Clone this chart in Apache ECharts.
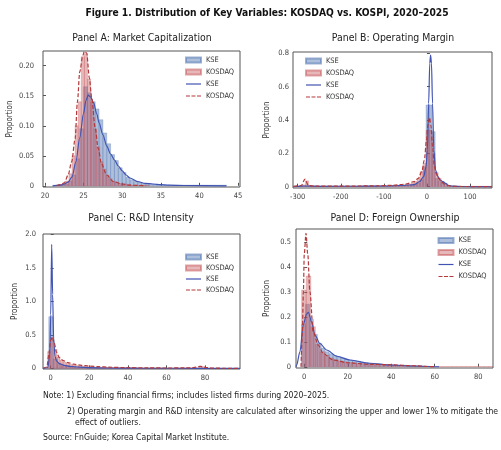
<!DOCTYPE html>
<html>
<head>
<meta charset="utf-8">
<script src="https://cdn.jsdelivr.net/npm/echarts@6/dist/echarts.min.js"></script>
<style>
html, body { margin: 0; padding: 0; background: #fff; }
#chart { width: 501px; height: 450px; }
</style>
</head>
<body>
<div id="chart"></div>
<script>
;
(function() {

	var chart = echarts.init(document.getElementById('chart'), null, {renderer: 'canvas'});
	var FONT = "'Liberation Sans Narrow','DejaVu Sans Condensed','Noto Sans',sans-serif";

	// Panel A: 시가총액 (log)
	var capKseStart = 21.0, capKseWidth = 0.5;
	var capKseHist = [0.001, 0.001, 0.002, 0.003, 0.008, 0.018, 0.045, 0.095, 0.165, 0.155,
		0.14, 0.128, 0.11, 0.088, 0.07, 0.052, 0.042, 0.03, 0.022, 0.014,
		0.01, 0.007, 0.005, 0.004, 0.003, 0.002, 0.002, 0.001, 0.001, 0.001,
		0.001, 0.001, 0.001, 0.001, 0.001, 0.001, 0.001, 0.001, 0.001, 0.001,
		0.001, 0.001, 0.001, 0.001, 0.001];
	var capKosStart = 21.5, capKosWidth = 0.4;
	var capKosHist = [0.001, 0.002, 0.004, 0.008, 0.02, 0.05, 0.1, 0.14, 0.215, 0.22,
		0.178, 0.14, 0.095, 0.065, 0.04, 0.028, 0.018, 0.012, 0.008, 0.006,
		0.004, 0.003, 0.003, 0.002, 0.001, 0.001, 0.001, 0.001, 0.001, 0.001];
	var capKseKde = [[21, 0], [22, 0.001], [22.5, 0.003], [23, 0.006], [23.5, 0.015], [24, 0.04],
		[24.5, 0.08], [25, 0.121], [25.3, 0.142], [25.6, 0.151], [25.9, 0.148], [26.3, 0.138],
		[26.7, 0.12], [27, 0.105], [27.5, 0.085], [28, 0.066], [28.5, 0.053], [29, 0.043],
		[29.5, 0.033], [30, 0.025], [30.5, 0.018], [31, 0.013], [32, 0.007], [33, 0.004],
		[34, 0.003], [35, 0.002], [36, 0.001], [38, 0.0005], [43.5, 0]];
	var capKosKde = [[21.5, 0], [22, 0.002], [22.5, 0.005], [23, 0.018], [23.45, 0.04], [23.9, 0.078],
		[24.2, 0.14], [24.5, 0.19], [24.9, 0.217], [25.1, 0.224], [25.4, 0.221], [25.75, 0.179],
		[26.05, 0.146], [26.5, 0.096], [26.9, 0.062], [27.3, 0.037], [28, 0.018], [28.85, 0.007],
		[30, 0.003], [31, 0.001], [33, 0]];

	// Panel B: 영업이익률
	var opmStart = -303, opmWidth = 7;
	var opmKseHist = [0.002, 0.003, 0.003, 0.004, 0.002, 0.002, 0.002, 0.003, 0.002, 0.002,
		0.002, 0.002, 0.003, 0.002, 0.002, 0.002, 0.002, 0.003, 0.002, 0.002,
		0.003, 0.002, 0.003, 0.003, 0.003, 0.003, 0.004, 0.003, 0.004, 0.004,
		0.004, 0.004, 0.005, 0.005, 0.005, 0.006,
		0.007, 0.008, 0.01, 0.014, 0.022, 0.04, 0.12,
		0.49, 0.49, 0.33,
		0.05, 0.032, 0.03, 0.02, 0.007,
		0.002, 0.002, 0.002, 0.001, 0.001, 0.001, 0.001, 0.001, 0.001, 0.001, 0.001, 0.001, 0.001, 0.001];
	var opmKosHist = [0.003, 0.004, 0.01, 0.035, 0.006, 0.003, 0.003, 0.003, 0.003, 0.003,
		0.003, 0.003, 0.003, 0.003, 0.003, 0.003, 0.003, 0.003, 0.003, 0.003,
		0.003, 0.003, 0.004, 0.004, 0.004, 0.004, 0.004, 0.005, 0.005, 0.005,
		0.006, 0.006, 0.007, 0.008, 0.009, 0.01,
		0.012, 0.015, 0.02, 0.03, 0.05, 0.09, 0.14,
		0.34, 0.34, 0.2,
		0.085, 0.05, 0.025, 0.014, 0.006,
		0.003, 0.003, 0.003, 0.003, 0.002, 0.002, 0.002, 0.002, 0.002, 0.002, 0.002, 0.002, 0.002, 0.002];
	var opmKseKde = [[-310, 0], [-300, 0.002], [-285, 0.004], [-250, 0.002], [-150, 0.003], [-100, 0.004],
		[-60, 0.007], [-40, 0.01], [-30, 0.012], [-17, 0.03], [-7.6, 0.06], [-2, 0.12], [1, 0.22],
		[4, 0.5], [6.5, 0.74], [8.5, 0.79], [10.5, 0.74], [13, 0.5], [16, 0.22], [20, 0.1],
		[25.5, 0.06], [31, 0.04], [37, 0.03], [43, 0.02], [50, 0.008], [60, 0.003], [80, 0.001], [151, 0]];
	var opmKosKde = [[-310, 0.002], [-292, 0.006], [-283, 0.045], [-275, 0.006], [-260, 0.003], [-200, 0.003],
		[-120, 0.005], [-80, 0.008], [-50, 0.015], [-30, 0.03], [-20, 0.05], [-12, 0.09], [-6, 0.16],
		[-1, 0.28], [3, 0.38], [6, 0.415], [9, 0.37], [13, 0.24], [17, 0.13], [21, 0.08], [27, 0.05],
		[33, 0.03], [40, 0.016], [50, 0.006], [60, 0.002], [80, 0.001], [151, 0]];

	// Panel C: R&D 집약도
	var rndKseStart = -1, rndKseWidth = 2.25;
	var rndKseHist = [0.77, 0.14, 0.06, 0.04, 0.03, 0.022, 0.016, 0.012, 0.01, 0.008,
		0.007, 0.006, 0.005, 0.004, 0.004, 0.003, 0.003, 0.002, 0.002, 0.002,
		0.002, 0.001, 0.001, 0.001, 0.001, 0.001, 0.001];
	var rndKosStart = -1.6, rndKosWidth = 1.6;
	var rndKosHist = [0.25, 0.46, 0.28, 0.17, 0.12, 0.09, 0.075, 0.06, 0.05, 0.042,
		0.035, 0.03, 0.026, 0.022, 0.019, 0.016, 0.014, 0.012, 0.011, 0.01,
		0.009, 0.008, 0.008, 0.007, 0.007, 0.006, 0.006, 0.005, 0.005, 0.005,
		0.004, 0.004, 0.004, 0.004, 0.003, 0.003, 0.003, 0.003, 0.003, 0.003,
		0.003, 0.003, 0.003, 0.003, 0.003, 0.003, 0.003, 0.004, 0.006,
		0.03, 0.025];
	var rndKseKde = [[-4, 0], [-1.5, 0.01], [-0.5, 0.2], [0, 0.8], [0.5, 1.85], [1, 1.1], [1.5, 0.45],
		[2.2, 0.18], [3, 0.11], [4.5, 0.07], [7, 0.045], [10, 0.03], [15, 0.018], [20, 0.01],
		[30, 0.005], [45, 0.002], [60, 0.001], [98, 0]];
	var rndKosKde = [[-4, 0], [-2, 0.02], [-1, 0.2], [0, 0.42], [0.8, 0.47], [1.8, 0.38], [3, 0.24],
		[4.5, 0.16], [6.5, 0.115], [9, 0.085], [12, 0.062], [16, 0.045], [20, 0.034], [25, 0.024],
		[30, 0.017], [40, 0.01], [50, 0.007], [60, 0.005], [70, 0.006], [74, 0.012], [77.5, 0.03],
		[80.5, 0.012], [84, 0.003], [90, 0.001], [98, 0]];

	// Panel D: 외국인 지분율
	var forKseStart = -1.2, forKseWidth = 1.8;
	var forKseHist = [0.17, 0.25, 0.19, 0.13, 0.095, 0.075, 0.06, 0.052, 0.045, 0.04,
		0.035, 0.03, 0.027, 0.024, 0.021, 0.018, 0.016, 0.014, 0.012, 0.011,
		0.01, 0.009, 0.008, 0.007, 0.006, 0.005, 0.005, 0.004, 0.004, 0.003,
		0.003, 0.003];
	var forKosStart = -1.2, forKosWidth = 2.1;
	var forKosHist = [0.307, 0.363, 0.16, 0.09, 0.06, 0.045, 0.035, 0.028, 0.023, 0.02,
		0.017, 0.015, 0.013, 0.012, 0.011, 0.01, 0.009, 0.009, 0.008, 0.008,
		0.007, 0.006, 0.006, 0.005, 0.004, 0.004, 0.003, 0.002,
		0.001, 0.001, 0.001, 0.001, 0.001, 0.001, 0.001, 0.001, 0.001, 0.001, 0.001, 0.001, 0.001, 0.001];
	var forKseKde = [[-3.8, 0], [-3.5, 0.007], [-2, 0.06], [-0.45, 0.167], [1, 0.21], [1.85, 0.218],
		[3.4, 0.18], [4.9, 0.127], [7.2, 0.093], [10.3, 0.067], [15, 0.042], [21, 0.027],
		[30, 0.014], [40, 0.007], [50, 0.003], [57, 0.001], [62, 0]];
	var forKosKde = [[-1.5, 0], [-0.9, 0.13], [-0.4, 0.3], [0, 0.45], [0.8, 0.534], [1.6, 0.45],
		[2.6, 0.3], [4.1, 0.14], [6.4, 0.087], [8.7, 0.053], [13.3, 0.027], [20, 0.016],
		[30, 0.01], [40, 0.008], [50, 0.004], [57, 0.001], [60, 0]];

	// 눈금
	var capTicksX = [20, 25, 30, 35, 40, 45];
	var capTicksY = [0, 0.05, 0.10, 0.15, 0.20];
	var opmTicksX = [-300, -200, -100, 0, 100];
	var opmTicksY = [0, 0.2, 0.4, 0.6, 0.8];
	var rndTicksX = [0, 20, 40, 60, 80];
	var rndTicksY = [0, 0.5, 1.0, 1.5, 2.0];
	var forTicksX = [0, 20, 40, 60, 80];
	var forTicksY = [0, 0.1, 0.2, 0.3, 0.4, 0.5];

	var panelTitles = ['Panel A: Market Capitalization', 'Panel B: Operating Margin',
		'Panel C: R&D Intensity', 'Panel D: Foreign Ownership'];

	var KSE_FILL = 'rgba(76,114,176,0.45)', KSE_EDGE = 'rgba(76,114,176,0.55)';
	var KOS_FILL = 'rgba(196,78,82,0.40)', KOS_EDGE = 'rgba(196,78,82,0.50)';
	var KSE_LINE = '#4053b3', KOS_LINE = '#b3393b';

	// 범례 아이콘 (실선/점선)
	var ICON_SOLID = 'path://M0,0H30V2.4H0Z';
	var ICON_DASH = 'path://M0,0H8V2.4H0Z M11,0H19V2.4H11Z M22,0H30V2.4H22Z';

	var grids = [
		{left: 43, top: 51, width: 197, height: 136},
		{left: 293, top: 52, width: 199, height: 136},
		{left: 43, top: 234, width: 197, height: 135},
		{left: 296, top: 229, width: 197, height: 139}
	];
	var xRange = [[19.74, 45.26], [-310.9, 151], [-4, 98.1], [-3.8, 86.8]];
	var yRange = [[-0.002, 0.2245], [-0.008, 0.808], [-0.01, 2.004], [-0.005, 0.551]];
	var xTicks = [capTicksX, opmTicksX, rndTicksX, forTicksX];
	var yTicks = [capTicksY, opmTicksY, rndTicksY, forTicksY];
	var yDigits = [2, 1, 1, 1];
	var yMargin = [9, 4, 7, 5];
	var nameGap = [29, 22, 24, 25];

	function renderBar(params, api) {
		var p0 = api.coord([api.value(0), 0]);
		var p1 = api.coord([api.value(1), api.value(2)]);
		return {
			type: 'rect',
			shape: {x: p0[0], y: p1[1], width: p1[0] - p0[0], height: p0[1] - p1[1]},
			style: api.style()
		};
	}

	function histSeries(name, idx, start, width, heights, fill, edge) {
		var data = [];
		for(var i = 0; i < heights.length; i++) {
			data.push([start + i * width, start + (i + 1) * width, heights[i]]);
		}
		return {
			name: name,
			type: 'custom',
			xAxisIndex: idx,
			yAxisIndex: idx,
			renderItem: renderBar,
			clip: true,
			encode: {x: [0, 1], y: 2},
			itemStyle: {color: fill, borderColor: edge, borderWidth: 0.5},
			data: data
		};
	}

	function kdeSeries(name, idx, points, color, dashed) {
		return {
			name: name,
			type: 'line',
			xAxisIndex: idx,
			yAxisIndex: idx,
			symbol: 'none',
			smooth: 0.3,
			smoothMonotone: 'x',
			lineStyle: {color: color, width: 1.2, type: dashed ? [4, 2] : 'solid'},
			itemStyle: {color: color},
			data: points
		};
	}

	var xAxes = [], yAxes = [], series = [], legends = [];
	var legendPos = [
		{left: 185, top: 55.5, gap: 3},
		{left: 305, top: 56.5, gap: 3},
		{left: 185, top: 252.5, gap: 2},
		{left: 437.5, top: 236, gap: 3}
	];
	var tag = ['A', 'B', 'C', 'D'];

	for(var g = 0; g < 4; g++) {
		(function(g) {
			xAxes.push({
				type: 'value', gridIndex: g, min: xRange[g][0], max: xRange[g][1],
				axisLine: {show: false}, splitLine: {show: false},
				axisTick: {show: true, inside: true, length: 3, customValues: xTicks[g], lineStyle: {color: '#555'}},
				axisLabel: {customValues: xTicks[g], fontSize: 7.5, color: '#444', margin: 5, fontFamily: FONT}
			});
			yAxes.push({
				type: 'value', gridIndex: g, min: yRange[g][0], max: yRange[g][1],
				name: 'Proportion', nameLocation: 'middle', nameGap: nameGap[g], nameRotate: 90,
				nameTextStyle: {fontSize: 8, color: '#333', fontFamily: FONT},
				axisLine: {show: false}, splitLine: {show: false},
				axisTick: {show: true, inside: true, length: 3, customValues: yTicks[g], lineStyle: {color: '#555'}},
				axisLabel: {
					customValues: yTicks[g], fontSize: 7.5, color: '#444', margin: yMargin[g], fontFamily: FONT,
					formatter: function(v) { return v === 0 ? '0' : v.toFixed(yDigits[g]); }
				}
			});
		})(g);
		legends.push({
			orient: 'vertical', left: legendPos[g].left, top: legendPos[g].top, padding: 0,
			itemWidth: 15, itemHeight: 5, itemGap: legendPos[g].gap, selectedMode: false,
			textStyle: {fontSize: 7.4, color: '#333', lineHeight: 9, fontFamily: FONT},
			formatter: function(name) { return name.split('_')[1]; },
			data: [
				{name: tag[g] + '_KSE_h', icon: 'rect'},
				{name: tag[g] + '_KOSDAQ_h', icon: 'rect'},
				{name: tag[g] + '_KSE_k', icon: ICON_SOLID, itemStyle: {color: KSE_LINE, borderColor: KSE_LINE, borderWidth: 0}},
				{name: tag[g] + '_KOSDAQ_k', icon: ICON_DASH, itemStyle: {color: KOS_LINE, borderColor: KOS_LINE, borderWidth: 0}}
			]
		});
	}

	var histSets = [
		[capKseStart, capKseWidth, capKseHist, capKosStart, capKosWidth, capKosHist, capKseKde, capKosKde],
		[opmStart, opmWidth, opmKseHist, opmStart, opmWidth, opmKosHist, opmKseKde, opmKosKde],
		[rndKseStart, rndKseWidth, rndKseHist, rndKosStart, rndKosWidth, rndKosHist, rndKseKde, rndKosKde],
		[forKseStart, forKseWidth, forKseHist, forKosStart, forKosWidth, forKosHist, forKseKde, forKosKde]
	];
	for(var k = 0; k < 4; k++) {
		var s = histSets[k];
		series.push(histSeries(tag[k] + '_KSE_h', k, s[0], s[1], s[2], KSE_FILL, KSE_EDGE));
		series.push(histSeries(tag[k] + '_KOSDAQ_h', k, s[3], s[4], s[5], KOS_FILL, KOS_EDGE));
		series.push(kdeSeries(tag[k] + '_KSE_k', k, s[6], KSE_LINE, false));
		series.push(kdeSeries(tag[k] + '_KOSDAQ_k', k, s[7], KOS_LINE, true));
	}

	// 제목과 주석
	var titlePos = [[142, 38], [393, 38], [141, 218.5], [395, 218.5]];
	var graphics = [{
		type: 'text', x: 267, y: 13,
		style: {text: 'Figure 1. Distribution of Key Variables: KOSDAQ vs. KOSPI, 2020\u20132025',
			textAlign: 'center', textVerticalAlign: 'middle', fill: '#111',
			font: 'bold 10.2px ' + FONT}
	}];
	for(var t = 0; t < 4; t++) {
		graphics.push({
			type: 'text', x: titlePos[t][0], y: titlePos[t][1],
			style: {text: panelTitles[t], textAlign: 'center', textVerticalAlign: 'middle',
				fill: '#222', font: '10.4px ' + FONT}
		});
	}
	var notes = [
		[43, 396, 'Note: 1) Excluding financial firms; includes listed firms during 2020\u20132025.'],
		[67, 411.5, '2) Operating margin and R&D intensity are calculated after winsorizing the upper and lower 1% to mitigate the'],
		[75, 423, 'effect of outliers.'],
		[43, 438, 'Source: FnGuide; Korea Capital Market Institute.']
	];
	for(var n = 0; n < notes.length; n++) {
		graphics.push({
			type: 'text', x: notes[n][0], y: notes[n][1],
			style: {text: notes[n][2], textAlign: 'left', textVerticalAlign: 'middle',
				fill: '#222', font: '8.6px ' + FONT}
		});
	}

	chart.setOption({
		animation: false,
		grid: grids.map(function(gr) {
			return {left: gr.left, top: gr.top, width: gr.width, height: gr.height,
				show: true, borderColor: '#555', borderWidth: 1, backgroundColor: 'transparent'};
		}),
		xAxis: xAxes,
		yAxis: yAxes,
		legend: legends,
		series: series,
		graphic: graphics
	});

}());
</script>
</body>
</html>
